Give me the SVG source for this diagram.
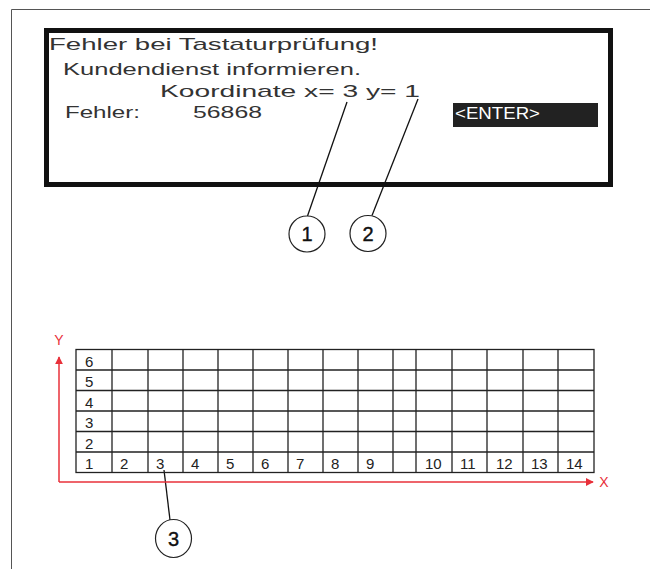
<svg xmlns="http://www.w3.org/2000/svg" width="650" height="569" viewBox="0 0 650 569">
<style>
.scr{font-family:"Liberation Sans",Arial,sans-serif;font-size:17px;fill:#333}
.lead{stroke:#111;stroke-width:1.3;fill:none}
.callout{fill:#fff;stroke:#222;stroke-width:1.2}
.cnum{font-family:"Liberation Sans",Arial,sans-serif;font-size:20px;fill:#111;stroke:#111;stroke-width:0.4;text-anchor:middle}
.grid{stroke:#222;stroke-width:1.3;fill:none}
.gl{font-family:"Liberation Sans",Arial,sans-serif;font-size:15px;fill:#222}
.axis{stroke:#e8303a;stroke-width:1.5;fill:none}
.axl{font-family:"Liberation Sans",Arial,sans-serif;font-size:14px;fill:#e8303a;text-anchor:middle}
</style>
<defs>
<marker id="ah" viewBox="0 0 10 10" refX="9" refY="5" markerWidth="8" markerHeight="8" markerUnits="userSpaceOnUse" orient="auto">
<path d="M0,0 L10,5 L0,10 z" fill="#e8303a"/>
</marker>
</defs>
<rect width="650" height="569" fill="#fff"/>
<path d="M11.5,569 V9.5 H650" stroke="#555" stroke-width="1" fill="none"/>

<g id="screen">
<rect x="46.5" y="30.5" width="564" height="154" fill="#fff" stroke="#111" stroke-width="5"/>
<text class="scr" x="49" y="50" textLength="329" lengthAdjust="spacingAndGlyphs">Fehler bei Tastaturprüfung!</text>
<text class="scr" x="63" y="75" textLength="298" lengthAdjust="spacingAndGlyphs">Kundendienst informieren.</text>
<text class="scr" x="160" y="96.5" textLength="260" lengthAdjust="spacingAndGlyphs">Koordinate x= 3 y= 1</text>
<text class="scr" x="65" y="118" textLength="75" lengthAdjust="spacingAndGlyphs">Fehler:</text>
<text class="scr" x="193" y="118" textLength="69" lengthAdjust="spacingAndGlyphs">56868</text>
<rect x="453" y="103" width="145" height="24" fill="#222"/>
<text class="scr" x="455" y="119" style="fill:#fff" textLength="85" lengthAdjust="spacingAndGlyphs">&lt;ENTER&gt;</text>
</g>

<g id="connectors">
<line class="lead" x1="347" y1="102" x2="307.5" y2="216"/>
<line class="lead" x1="418" y1="99" x2="372" y2="215.5"/>
<line class="lead" x1="164" y1="470" x2="170" y2="520"/>
</g>

<g id="callout1">
<circle class="callout" cx="307" cy="234" r="18"/>
<text class="cnum" x="307" y="241">1</text>
</g>
<g id="callout2">
<circle class="callout" cx="368" cy="233.5" r="18"/>
<text class="cnum" x="368" y="240.5">2</text>
</g>
<g id="callout3">
<ellipse class="callout" cx="173.5" cy="538.5" rx="18" ry="19"/>
<text class="cnum" x="173.5" y="545.5">3</text>
</g>

<g id="axes">
<line class="axis" x1="59" y1="482" x2="59" y2="357" marker-end="url(#ah)"/>
<line class="axis" x1="59" y1="482" x2="593" y2="482" marker-end="url(#ah)"/>
<text class="axl" x="59" y="345">Y</text>
<text class="axl" x="604" y="487">X</text>
</g>

<g id="grid">
<rect class="grid" x="76" y="349.5" width="518" height="123"/>
<path class="grid" d="M76,370 H594 M76,390.5 H594 M76,411 H594 M76,431.5 H594 M76,452 H594
M112,349.5 V472.5 M148,349.5 V472.5 M183,349.5 V472.5 M218,349.5 V472.5 M253,349.5 V472.5 M288,349.5 V472.5 M323,349.5 V472.5 M358,349.5 V472.5 M393,349.5 V472.5 M416,349.5 V472.5 M452,349.5 V472.5 M487,349.5 V472.5 M523,349.5 V472.5 M558,349.5 V472.5"/>
<text class="gl" x="85" y="366.5">6</text>
<text class="gl" x="85" y="387">5</text>
<text class="gl" x="85" y="407.5">4</text>
<text class="gl" x="85" y="428">3</text>
<text class="gl" x="85" y="448.5">2</text>
<text class="gl" x="85" y="469">1</text>
<text class="gl" x="120" y="469">2</text>
<text class="gl" x="156" y="469">3</text>
<text class="gl" x="191" y="469">4</text>
<text class="gl" x="226" y="469">5</text>
<text class="gl" x="261" y="469">6</text>
<text class="gl" x="296" y="469">7</text>
<text class="gl" x="331" y="469">8</text>
<text class="gl" x="366" y="469">9</text>
<text class="gl" x="425" y="469">10</text>
<text class="gl" x="460" y="469">11</text>
<text class="gl" x="496" y="469">12</text>
<text class="gl" x="531" y="469">13</text>
<text class="gl" x="566" y="469">14</text>
</g>
</svg>
